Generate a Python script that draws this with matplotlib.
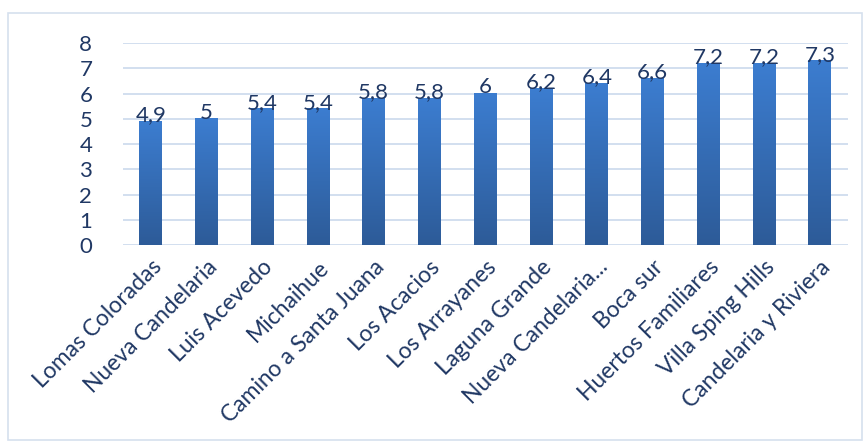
import numpy as np
import matplotlib
matplotlib.use('Agg')
import matplotlib.pyplot as plt
from matplotlib.colors import LinearSegmentedColormap
from matplotlib.patches import Rectangle

sectores = ['Lomas Coloradas', 'Nueva Candelaria', 'Luis Acevedo', 'Michaihue',
            'Camino a Santa Juana', 'Los Acacios', 'Los Arrayanes', 'Laguna Grande',
            'Nueva Candelaria...', 'Boca sur', 'Huertos Familiares',
            'Villa Sping Hills', 'Candelaria y Riviera']
valores = [4.9, 5.0, 5.4, 5.4, 5.8, 5.8, 6.0, 6.2, 6.4, 6.6, 7.2, 7.2, 7.3]
etiquetas = ['4,9', '5', '5,4', '5,4', '5,8', '5,8', '6', '6,2', '6,4', '6,6', '7,2', '7,2', '7,3']

texto = '#203864'
plt.rcParams['font.family'] = ['Lato', 'DejaVu Sans']

fig = plt.figure(figsize=(8.65, 4.45), dpi=100)
# borde del grafico
fig.patches.append(Rectangle((8 / 865, 5 / 445), 854 / 865, 427 / 445,
                             transform=fig.transFigure, fill=False,
                             edgecolor='#d6e0ee', linewidth=1.2))
ax = fig.add_axes([0.142, 0.449, 0.838, 0.454])

x = np.arange(len(valores))
barras = ax.bar(x, valores, width=0.41, color='none', zorder=3)

# degradado vertical en cada barra
cmap = LinearSegmentedColormap.from_list('azul', ['#2d5b98', '#3c7dd0'])
grad = np.linspace(0, 1, 256).reshape(-1, 1)
for b in barras:
    x0, w, h = b.get_x(), b.get_width(), b.get_height()
    ax.imshow(grad, extent=[x0, x0 + w, 0, h], origin='lower', cmap=cmap,
              aspect='auto', zorder=3)

for xi, v, t in zip(x, valores, etiquetas):
    ax.text(xi, v - 0.15, t, ha='center', va='bottom', fontsize=16, color=texto, zorder=4)

ax.set_xlim(-0.5, len(valores) - 0.5)
ax.set_ylim(0, 8)
ax.set_yticks(range(0, 9))
ax.yaxis.grid(True, color='#cfdcee', linewidth=1.3, zorder=0)
ax.set_axisbelow(True)
for s in ax.spines.values():
    s.set_visible(False)
ax.tick_params(axis='both', length=0, colors=texto)
ax.tick_params(axis='y', labelsize=16, pad=22)
ax.set_xticks(x)
ax.set_xticklabels(sectores, rotation=45, ha='right', rotation_mode='anchor',
                   fontsize=16.5, color=texto)
ax.tick_params(axis='x', pad=8)

plt.savefig('out.png', dpi=100)
